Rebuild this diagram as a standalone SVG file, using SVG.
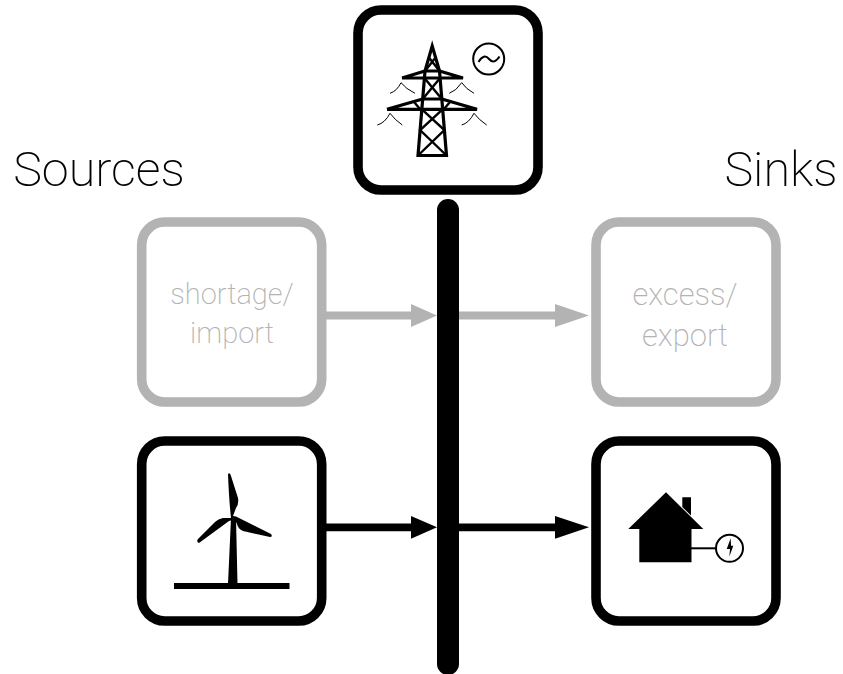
<svg xmlns="http://www.w3.org/2000/svg" width="843" height="674" viewBox="0 0 843 674">
<style>
.box{fill:#fff;stroke-width:9.6}
.k{stroke:#000}.g{stroke:#b3b3b3}
.lbl{font-family:Roboto,"Liberation Sans",sans-serif;font-weight:200;text-anchor:middle;opacity:.99}
.big{font-size:48.500px;fill:#000}
.small{font-size:29px;fill:#b3b3b3}
.small2{font-size:31px;fill:#b3b3b3}
.line{fill:none;stroke-width:7.800}
.head-k{fill:#000}.head-g{fill:#b3b3b3}
.wire{fill:none;stroke:#000;stroke-width:1}
</style>
<rect width="843" height="674" fill="#fff"/>
<text class="lbl big" x="99" y="186">Sources</text>
<text class="lbl big" x="781" y="186">Sinks</text>
<g id="connectors">
<path class="line g" d="M326 315.500H414"/><path class="head-g" d="M411 304L437 315.500L411 327Z"/>
<path class="line g" d="M459 315.500H558"/><path class="head-g" d="M555 304L589 315.500L555 327Z"/>
<path class="line k" d="M326 527.300H414"/><path class="head-k" d="M411 516L437 527.300L411 538.700Z"/>
<path class="line k" d="M459 527.300H558"/><path class="head-k" d="M555 516L589 527.300L555 538.700Z"/>
</g>
<g id="bus"><rect x="437" y="199" width="22" height="476" rx="11" fill="#000"/></g>
<g id="grid">
<rect class="box k" x="358" y="10" width="180" height="180" rx="23"/>
<g fill="none" stroke="#000" stroke-width="3.200" stroke-linejoin="miter">
<path d="M418 155.500L425 71L432.200 46L439.500 71L446.500 155.500Z"/>
<path d="M425 71H439.500M402 78H463L439.500 71M402 78L425 71"/>
<path d="M422.700 99H441.800M387 109.300H477L441.800 99M387 109.300L422.700 99"/>
</g>
<g fill="none" stroke="#000" stroke-width="2.400">
<path d="M425 71L436 57M439.500 71L428.500 57M424.400 78L441.800 99M440.100 78L422.700 99"/>
<path d="M421.900 109.300L444.400 130L418 155.500M442.600 109.300L420.100 130L446.500 155.500"/>
<path d="M414 102L420 109M450 102L444 109"/>
</g>
<path class="wire" d="M390 93.300Q397 91 401 82.700Q406 89 415 93.300"/>
<path class="wire" d="M449.300 93.300Q456 91 461.700 82.700Q466 89 474 93.300"/>
<path class="wire" d="M377.300 125Q385 123 390 113.300Q395 120 402.300 125"/>
<path class="wire" d="M461.700 125Q469 123 474 113.300Q479 120 486.700 125"/>
<circle cx="488.700" cy="59" r="15.500" fill="none" stroke="#000" stroke-width="2"/>
<path d="M478.500 62Q484 53 489 59T499.500 56.500" fill="none" stroke="#000" stroke-width="2"/>
</g>
<g id="shortage">
<rect class="box g" x="141.700" y="222" width="180" height="180" rx="23"/>
<text class="lbl small" x="232" y="304">shortage/</text>
<text class="lbl small" x="232" y="343">import</text>
</g>
<g id="excess">
<rect class="box g" x="596" y="222" width="180" height="180" rx="23"/>
<text class="lbl small2" x="685" y="305">excess/</text>
<text class="lbl small2" x="685" y="346">export</text>
</g>
<g id="wind">
<rect class="box k" x="141.700" y="441" width="180" height="180" rx="23"/>
<path d="M174 583H289.500V589H174Z"/>
<path d="M228 584L231 518H236L237.500 584Z"/>
<path d="M231 518Q229 500 228 474Q230 472 231 476L238 498Q239 504 236 508L233 516Q236 516 239 518L271 534Q273 537 270 537L243 531Q238 529 237 524L235 520Q232 520 229 521L199 543Q196 542 198 539L215 522Q218 519 223 518Z"/>
</g>
<g id="house">
<rect class="box k" x="596" y="441" width="180" height="180" rx="23"/>
<path d="M628.300 529L666 492.300L703.300 529H691.500V562.300H639.300V529Z"/>
<path d="M682.300 497.300H691V515.500L682.300 507Z"/>
<path d="M690 548.300H716" stroke="#000" stroke-width="2" fill="none"/>
<circle cx="729.500" cy="548.300" r="13.500" fill="#fff" stroke="#000" stroke-width="2"/>
<path d="M730.700 538.300L726.700 549H730L729.300 556.700L733.300 545.700H731Z" fill="#000"/>
</g>
</svg>
